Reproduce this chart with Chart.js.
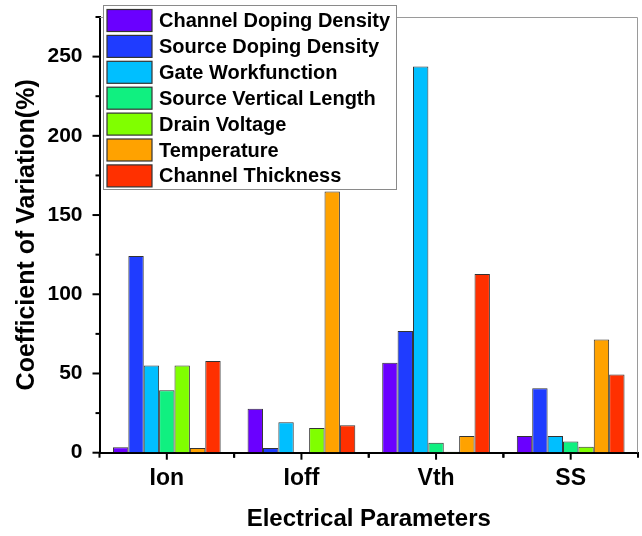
<!DOCTYPE html>
<html>
<head>
<meta charset="utf-8">
<script src="https://cdn.jsdelivr.net/npm/chart.js@4.4.0/dist/chart.umd.min.js"></script>
<style>
  html, body { margin:0; padding:0; background:#fff; }
  #wrap { width:642px; height:536px; }
</style>
</head>
<body>
<div id="wrap"><canvas id="cvChart" width="642" height="536"></canvas></div>
<script>
// categories + series (coefficient of variation, %)
const params = ['Ion', 'Ioff', 'Vth', 'SS'];
const seriesNames = ['Channel Doping Density', 'Source Doping Density', 'Gate Workfunction',
  'Source Vertical Length', 'Drain Voltage', 'Temperature', 'Channel Thickness'];
const seriesColors = ['#6a00ff', '#1f3cff', '#00bfff', '#10f080', '#80ff00', '#ffa200', '#ff3000'];

const channelDoping  = [3.4, 27.8, 56.8, 10.5];
const sourceDoping   = [124.2, 3.0, 76.8, 40.6];
const gateWorkfn     = [55.0, 19.2, 243.7, 10.5];
const sourceVertLen  = [39.4, 0, 6.3, 7.0];
const drainVoltage   = [55.0, 15.6, 0.6, 3.8];
const temperature    = [3.0, 164.8, 10.5, 71.4];
const channelThick   = [57.9, 17.3, 112.8, 49.3];

const yMax = 275, yStep = 25;
const FONT = '"Liberation Sans", Arial, sans-serif';

const allSeries = [channelDoping, sourceDoping, gateWorkfn, sourceVertLen, drainVoltage, temperature, channelThick];

// axis ticks, outer frame and the boxed legend
const decorPlugin = {
  id: 'decor',
  afterDraw(chart) {
    const ctx = chart.ctx, a = chart.chartArea;
    const xs = chart.scales.x, ys = chart.scales.y;
    ctx.save();
    // top/right frame
    ctx.strokeStyle = '#9a9a9a'; ctx.lineWidth = 1;
    ctx.beginPath();
    ctx.moveTo(a.left, a.top + 0.5); ctx.lineTo(a.right - 0.5, a.top + 0.5); ctx.lineTo(a.right - 0.5, a.bottom);
    ctx.stroke();
    // y ticks
    ctx.strokeStyle = '#000'; ctx.lineWidth = 2;
    for (let v = 0; v <= yMax; v += yStep) {
      const y = ys.getPixelForValue(v), len = v % 50 === 0 ? 7 : 4;
      ctx.beginPath(); ctx.moveTo(a.left - len, y); ctx.lineTo(a.left, y); ctx.stroke();
    }
    // x ticks: centers long, boundaries short
    const half = (xs.getPixelForValue(1) - xs.getPixelForValue(0)) / 2;
    params.forEach((p, i) => {
      const c = xs.getPixelForValue(i);
      ctx.beginPath(); ctx.moveTo(c, a.bottom); ctx.lineTo(c, a.bottom + 7); ctx.stroke();
      [c - half, c + half].forEach(b => {
        ctx.beginPath(); ctx.moveTo(b, a.bottom); ctx.lineTo(b, a.bottom + 5); ctx.stroke();
      });
    });
    // legend box
    const lx = 103.5, ly = 5.5, lw = 293, lh = 184, pitch = 25.9;
    ctx.fillStyle = '#fff'; ctx.fillRect(lx, ly, lw, lh);
    ctx.strokeStyle = '#8a8a8a'; ctx.lineWidth = 1; ctx.strokeRect(lx, ly, lw, lh);
    ctx.font = 'bold 20px ' + FONT; ctx.textBaseline = 'middle'; ctx.textAlign = 'left';
    chart.data.datasets.forEach((ds, i) => {
      const cy = 20.5 + i * pitch;
      ctx.fillStyle = ds.backgroundColor; ctx.fillRect(107, cy - 11, 45, 22);
      ctx.strokeStyle = '#333'; ctx.lineWidth = 1.2; ctx.strokeRect(107, cy - 11, 45, 22);
      ctx.fillStyle = '#000'; ctx.fillText(ds.label, 159, cy + 1);
    });
    ctx.restore();
  }
};

new Chart(document.getElementById('cvChart'), {
  type: 'bar',
  data: {
    labels: params,
    datasets: allSeries.map((d, i) => ({
      label: seriesNames[i], data: d,
      backgroundColor: seriesColors[i], borderColor: '#333', borderWidth: 1,
      categoryPercentage: 0.8, barPercentage: 1.0
    }))
  },
  options: {
    responsive: false, animation: false, devicePixelRatio: 1,
    layout: { padding: { top: 17, right: 4, left: 0, bottom: 0 } },
    plugins: { legend: { display: false }, tooltip: { enabled: false } },
    scales: {
      x: {
        grid: { display: true, drawOnChartArea: false, drawTicks: false },
        border: { color: '#000', width: 2 },
        ticks: { color: '#000', padding: 12, font: { family: FONT, size: 23, weight: 'bold' } },
        title: { display: true, text: 'Electrical Parameters', color: '#000',
          font: { family: FONT, size: 24, weight: 'bold' }, padding: { top: 0, bottom: 2 } },
        afterFit(s) { s.height = 83.3; s.paddingLeft = 0; s.paddingRight = 0; }
      },
      y: {
        min: 0, max: yMax,
        grid: { display: true, drawOnChartArea: false, drawTicks: false },
        border: { color: '#000', width: 2 },
        ticks: { stepSize: yStep, color: '#000', padding: 17,
          font: { family: FONT, size: 21, weight: 'bold' },
          callback: v => (v % 50 === 0 ? v : '') },
        title: { display: true, text: 'Coefficient of Variation(%)', color: '#000',
          font: { family: FONT, size: 25, weight: 'bold' }, padding: { top: 12, bottom: 0 } },
        afterFit(s) { s.width = 99.5; s.paddingTop = 0; s.paddingBottom = 0; }
      }
    }
  },
  plugins: [decorPlugin]
});
</script>
</body>
</html>
